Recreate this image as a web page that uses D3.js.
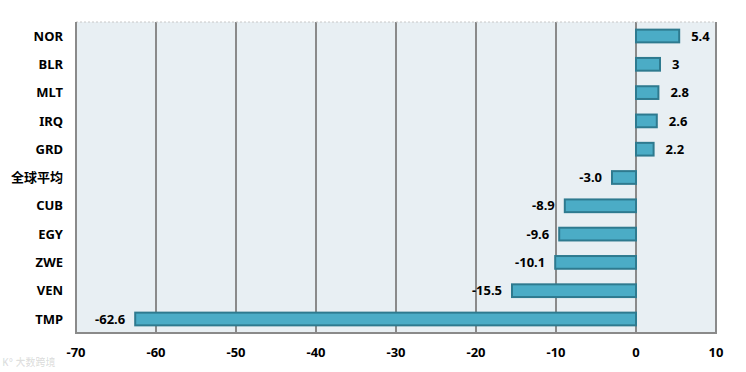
<!DOCTYPE html>
<html>
<head>
<meta charset="utf-8">
<script src="https://cdn.jsdelivr.net/npm/d3@7"></script>
<style>
  body { margin: 0; background: #fff; }
  text { font-family: "Noto Sans", "Noto Sans CJK SC", sans-serif; font-weight: bold; }
</style>
</head>
<body>
<svg width="746" height="372"></svg>
<script>
const categories = ['NOR', 'BLR', 'MLT', 'IRQ', 'GRD', '全球平均', 'CUB', 'EGY', 'ZWE', 'VEN', 'TMP'];
const values = [5.4, 3, 2.8, 2.6, 2.2, -3.0, -8.9, -9.6, -10.1, -15.5, -62.6];
const valueLabels = ['5.4', '3', '2.8', '2.6', '2.2', '-3.0', '-8.9', '-9.6', '-10.1', '-15.5', '-62.6'];
const xTicks = [-70, -60, -50, -40, -30, -20, -10, 0, 10];

const svg = d3.select('svg');
const plotLeft = 76, plotRight = 716, plotTop = 22, plotBottom = 333;

const x = d3.scaleLinear().domain([-70, 10]).range([plotLeft, plotRight]);
const y = d3.scaleBand().domain(categories).range([plotTop, plotBottom]).paddingInner(0.55).paddingOuter(0.27);

// fond
svg.append('rect')
  .attr('x', plotLeft).attr('y', plotTop)
  .attr('width', plotRight - plotLeft).attr('height', plotBottom - plotTop)
  .attr('fill', '#e8eff3');

// grille
svg.append('g')
  .selectAll('line')
  .data(xTicks.slice(1, -1))
  .join('line')
  .attr('x1', d => x(d)).attr('x2', d => x(d))
  .attr('y1', plotTop).attr('y2', plotBottom)
  .attr('stroke', '#8a8a8a')
  .attr('stroke-width', 2);

// cadre
svg.append('line').attr('x1', plotLeft).attr('x2', plotRight).attr('y1', plotTop).attr('y2', plotTop)
  .attr('stroke', '#c8c8c8').attr('stroke-width', 1).attr('stroke-dasharray', '2,2');
svg.append('path')
  .attr('d', `M${plotRight},${plotTop}V${plotBottom}H${plotLeft}V${plotTop}`)
  .attr('fill', 'none').attr('stroke', '#8a8a8a').attr('stroke-width', 2);

// barres
svg.append('g')
  .selectAll('rect')
  .data(values)
  .join('rect')
  .attr('x', d => x(Math.min(0, d)))
  .attr('y', (d, i) => y(categories[i]))
  .attr('width', d => Math.abs(x(d) - x(0)))
  .attr('height', y.bandwidth())
  .attr('fill', '#4bacc6')
  .attr('stroke', '#2e7a8f')
  .attr('stroke-width', 2);

// étiquettes des valeurs
svg.append('g')
  .selectAll('text')
  .data(values)
  .join('text')
  .attr('x', d => d >= 0 ? x(d) + 12 : x(d) - 10)
  .attr('y', (d, i) => y(categories[i]) + y.bandwidth() / 2)
  .attr('dy', '0.36em')
  .attr('text-anchor', d => d >= 0 ? 'start' : 'end')
  .attr('font-size', 13)
  .text((d, i) => valueLabels[i]);

// catégories
svg.append('g')
  .selectAll('text')
  .data(categories)
  .join('text')
  .attr('x', 63)
  .attr('y', d => y(d) + y.bandwidth() / 2)
  .attr('dy', '0.36em')
  .attr('text-anchor', 'end')
  .attr('font-size', 13)
  .text(d => d);

// axe x
svg.append('g')
  .selectAll('text')
  .data(xTicks)
  .join('text')
  .attr('x', d => x(d))
  .attr('y', 352)
  .attr('dy', '0.36em')
  .attr('text-anchor', 'middle')
  .attr('font-size', 13)
  .text(d => d);

// filigrane
svg.append('text')
  .attr('x', 2).attr('y', 366)
  .attr('font-size', 10)
  .attr('fill', '#000')
  .attr('fill-opacity', 0.12)
  .text('K° 大数跨境');
</script>
</body>
</html>
